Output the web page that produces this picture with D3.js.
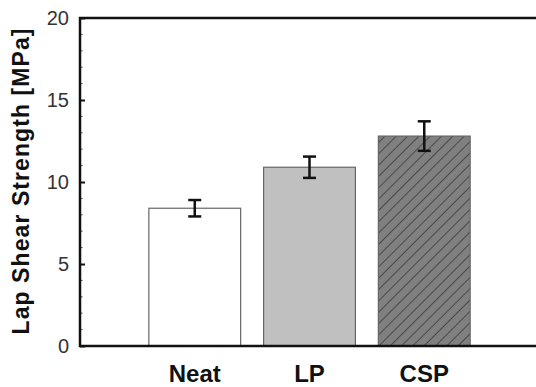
<!DOCTYPE html>
<html>
<head>
<meta charset="utf-8">
<script src="https://cdn.jsdelivr.net/npm/d3@7"></script>
<style>
  html, body { margin: 0; padding: 0; background: #fff; }
  svg { display: block; }
</style>
</head>
<body>
<div id="chart"></div>
<script>
// Lap shear strength per sample
const categories = ["Neat", "LP", "CSP"];
const values = [8.4, 10.9, 12.8];
const errors = [0.5, 0.65, 0.9];
const yTicks = [0, 5, 10, 15, 20];
const yMinorTicks = d3.range(0, 21, 1);

const width = 536, height = 387;
const margin = { top: 18, left: 80, bottom: 41 };
const plotRight = 539; // frame runs past the picture edge

const svg = d3.select("#chart")
  .append("svg")
  .attr("width", width)
  .attr("height", height)
  .attr("viewBox", [0, 0, width, height]);

// Hatch pattern for CSP
const defs = svg.append("defs");
defs.append("pattern")
  .attr("id", "hatch")
  .attr("patternUnits", "userSpaceOnUse")
  .attr("width", 8)
  .attr("height", 8)
  .attr("patternTransform", "rotate(45)")
  .call((p) => {
    p.append("rect").attr("width", 8).attr("height", 8).attr("fill", "#808080");
    p.append("line")
      .attr("x1", 0).attr("y1", 0).attr("x2", 0).attr("y2", 8)
      .attr("stroke", "#2a2a2a")
      .attr("stroke-width", 1.3);
  });

const fills = ["#ffffff", "#c0c0c0", "url(#hatch)"];

const x = d3.scaleBand()
  .domain(categories)
  .range([margin.left, plotRight])
  .paddingInner(0.2)
  .paddingOuter(0.6);

const y = d3.scaleLinear()
  .domain([0, 20])
  .range([height - margin.bottom, margin.top]);

// Bars
svg.append("g")
  .selectAll("rect")
  .data(categories)
  .join("rect")
  .attr("x", (d) => x(d))
  .attr("y", (d, i) => y(values[i]))
  .attr("width", x.bandwidth())
  .attr("height", (d, i) => y(0) - y(values[i]))
  .attr("fill", (d, i) => fills[i])
  .attr("stroke", "#666")
  .attr("stroke-width", 1.2);

// Error bars
const err = svg.append("g")
  .attr("stroke", "#111")
  .attr("stroke-width", 2.5);

categories.forEach((c, i) => {
  const cx = x(c) + x.bandwidth() / 2;
  const y1 = y(values[i] + errors[i]);
  const y2 = y(values[i] - errors[i]);
  err.append("line").attr("x1", cx).attr("x2", cx).attr("y1", y1).attr("y2", y2);
  err.append("line").attr("x1", cx - 6.5).attr("x2", cx + 6.5).attr("y1", y1).attr("y2", y1);
  err.append("line").attr("x1", cx - 6.5).attr("x2", cx + 6.5).attr("y1", y2).attr("y2", y2);
});

// Minor ticks (inward)
svg.append("g")
  .selectAll("line")
  .data(yMinorTicks.filter((t) => t % 5 !== 0))
  .join("line")
  .attr("x1", margin.left)
  .attr("x2", margin.left + 2.5)
  .attr("y1", (d) => y(d))
  .attr("y2", (d) => y(d))
  .attr("stroke", "#444")
  .attr("stroke-width", 1);

// Y axis with inward major ticks
const yAxis = svg.append("g")
  .attr("transform", `translate(${margin.left},0)`)
  .call(d3.axisLeft(y).tickValues(yTicks).tickSizeInner(-5).tickSizeOuter(0).tickPadding(11));

yAxis.select(".domain").remove();
yAxis.selectAll(".tick line").attr("stroke", "#111").attr("stroke-width", 2);
yAxis.selectAll(".tick text")
  .attr("font-family", "Liberation Sans, Arial, sans-serif")
  .attr("font-size", 20)
  .attr("fill", "#333");

// Frame
svg.append("path")
  .attr("d", `M${plotRight},${margin.top}H${margin.left}V${y(0)}H${plotRight}`)
  .attr("fill", "none")
  .attr("stroke", "#111")
  .attr("stroke-width", 2.5);

// Category labels
svg.append("g")
  .selectAll("text")
  .data(categories)
  .join("text")
  .attr("x", (d) => x(d) + x.bandwidth() / 2)
  .attr("y", 382)
  .attr("text-anchor", "middle")
  .attr("font-family", "Liberation Sans, Arial, sans-serif")
  .attr("font-weight", "bold")
  .attr("font-size", 24)
  .attr("fill", "#111")
  .text((d) => d);

// Y axis title
svg.append("text")
  .attr("transform", `translate(29,${(27 + 336) / 2}) rotate(-90)`)
  .attr("text-anchor", "middle")
  .attr("font-family", "Liberation Sans, Arial, sans-serif")
  .attr("font-weight", "bold")
  .attr("font-size", 23)
  .attr("textLength", 306)
  .attr("lengthAdjust", "spacing")
  .attr("fill", "#111")
  .text("Lap Shear Strength [MPa]");
</script>
</body>
</html>
